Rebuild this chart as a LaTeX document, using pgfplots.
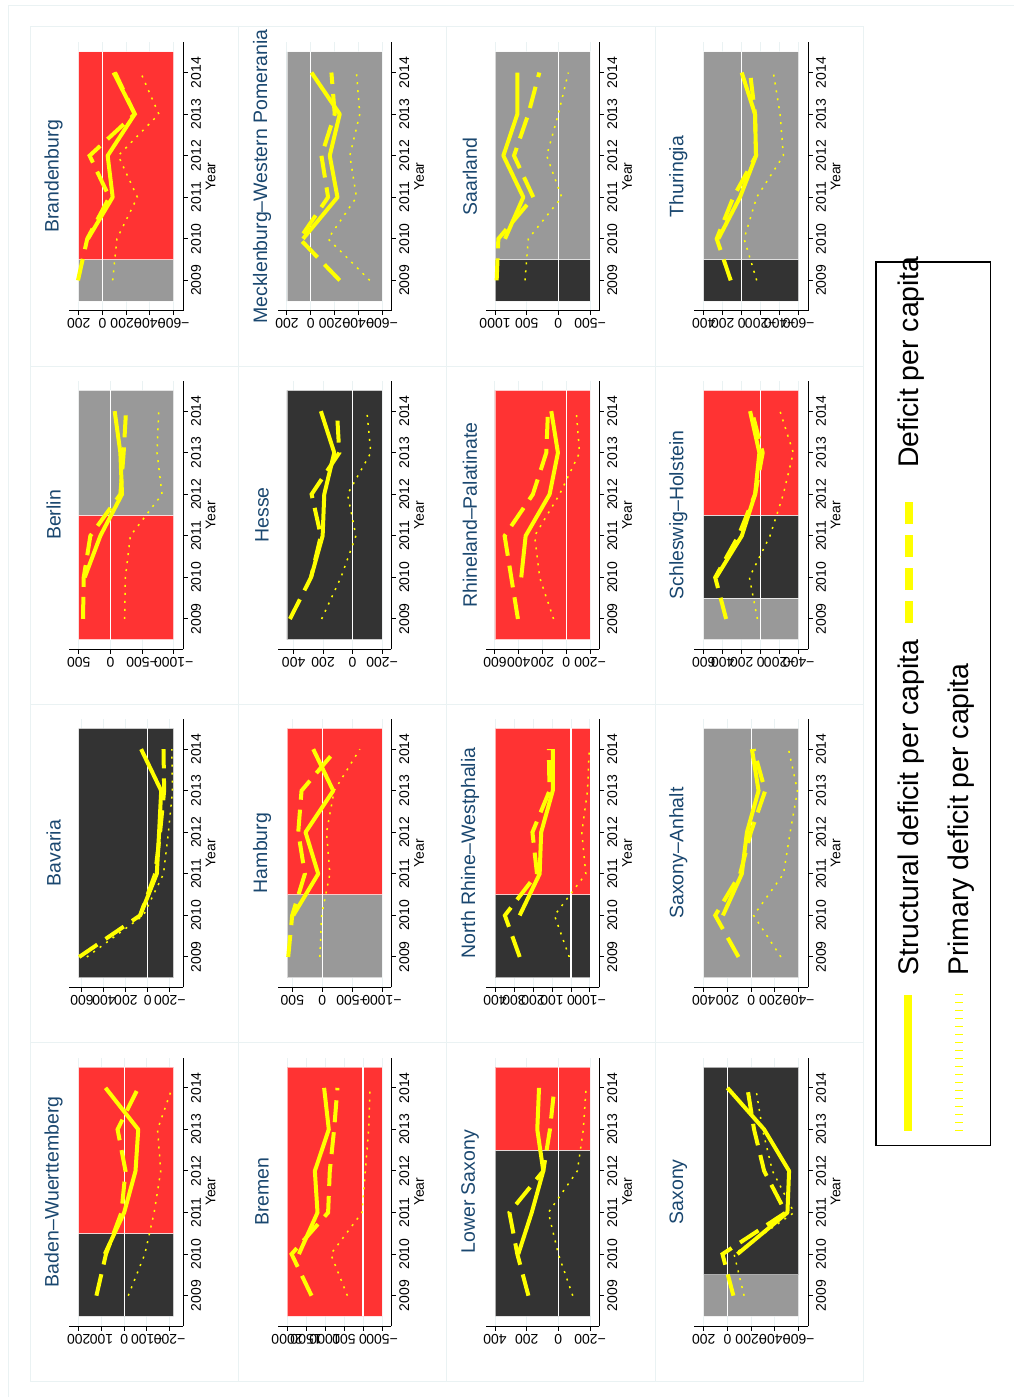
\documentclass[border=0pt]{standalone}
\usepackage{fontspec}
\setmainfont{Liberation Sans}
\usepackage{pgfplots}
\pgfplotsset{compat=1.18}
\definecolor{syel}{RGB}{255,255,0}
\definecolor{sred}{RGB}{255,51,51}
\definecolor{sdark}{RGB}{51,51,51}
\definecolor{sgray}{RGB}{153,153,153}
\definecolor{gridc}{RGB}{234,242,243}
\definecolor{navy}{RGB}{26,71,111}
\newcommand{\tickfont}{\fontsize{14}{14}\selectfont}
\newcommand{\band}[5]{\addplot[fill=#5, draw=white, draw opacity=0.6, line width=0.8pt, mark=none] coordinates {(#3,#1) (#4,#1) (#4,#2) (#3,#2) (#3,#1)};}
\newcommand{\zeroline}{\addplot[white, line width=1.2pt, mark=none] coordinates {(0,2008.5) (0,2014.5)};}
\tikzset{
  sstr/.style={syel, line width=4pt, mark=none, line join=round},
  sdef/.style={syel, line width=4pt, mark=none, dash pattern=on 22pt off 10pt},
  sprim/.style={syel, line width=1.5pt, mark=none, dash pattern=on 2pt off 6pt},
  ttl/.style={rotate=90, text=navy, font=\fontsize{19.5}{19.5}\selectfont},
}
\pgfplotsset{
  panel/.style={
    scale only axis, width=113.6pt, height=268.5pt,
    x dir=reverse,
    ymin=2008.27, ymax=2014.73,
    axis x line=bottom, axis y line=right,
    axis line style={-, black, line width=1pt},
    ytick={2009,2010,2011,2012,2013,2014},
    yticklabels={2009,2010,2011,2012,2013,2014},
    xtick align=outside, ytick align=outside,
    major tick length=4.5pt,
    tick style={black, line width=1pt},
    xmajorgrids, ymajorgrids=false,
    grid style={gridc, line width=1pt},
    xticklabel style={rotate=180, anchor=south, font=\tickfont},
    yticklabel style={rotate=90, anchor=north, font=\tickfont},
  }
}
\begin{document}
\begin{tikzpicture}[x=1pt, y=1pt]
\useasboundingbox (0,0) rectangle (1014,-1397);
% frames
\draw[gridc, line width=1pt] (8,-1397) -- (8,-5.7) -- (1014,-5.7);
\draw[gridc, line width=1pt] (30.7,-26.7) rectangle (863,-1381.7);
\foreach \xx in {238.7,446.7,655} \draw[gridc, line width=1pt] (\xx,-26.7) -- (\xx,-1381.7);
\foreach \yy in {366,704,1042.7} \draw[gridc, line width=1pt] (30.7,-\yy) -- (863,-\yy);

% ---------- Column 1 ----------
% Baden-Wuerttemberg
\begin{axis}[panel, at={(183pt,-1326pt)}, anchor=south east, xmin=-258.9, xmax=240.9,
  xtick={-200,-100,0,100,200}, xticklabels={−200,−100,0,100,200}]
\band{2008.5}{2010.5}{-218}{200}{sdark}
\band{2010.5}{2014.5}{-218}{200}{sred}
\zeroline
\addplot[sprim] coordinates {(-18,2009) (-91,2010) (-132,2011) (-161,2012) (-147,2013) (-211,2014)};
\addplot[sdef] coordinates {(122,2009) (80,2010) (12,2011) (-6,2012) (29,2013) (-62,2014)};
\addplot[sstr] coordinates {(85,2010) (0,2011) (-50,2012) (-62,2013) (82,2014)};
\end{axis}
\node[ttl] at (53.7,-1191.8) {Baden–Wuerttemberg};

% Bavaria
\begin{axis}[panel, at={(183pt,-987.3pt)}, anchor=south east, xmin=-320.8, xmax=714.8,
  xtick={-200,0,200,400,600}, xticklabels={−200,0,200,400,600}]
\band{2008.5}{2014.5}{-236}{630}{sdark}
\zeroline
\addplot[sprim] coordinates {(556,2009) (40,2010) (-143,2011) (-188,2012) (-225,2013) (-219,2014)};
\addplot[sdef] coordinates {(626,2009) (70,2010) (-67,2011) (-112,2012) (-149,2013) (-143,2014)};
\addplot[sstr] coordinates {(70,2010) (-82,2011) (-103,2012) (-122,2013) (61,2014)};
\end{axis}
\node[ttl] at (53.7,-853) {Bavaria};

% Berlin
\begin{axis}[panel, at={(183pt,-649.3pt)}, anchor=south east, xmin=-1146.9, xmax=646.9,
  xtick={-1000,-500,0,500}, xticklabels={−1000,−500,0,500}]
\band{2008.5}{2011.5}{-1000}{500}{sred}
\band{2011.5}{2014.5}{-1000}{500}{sgray}
\zeroline
\addplot[sprim] coordinates {(-226,2009) (-237,2010) (-316,2011) (-816,2012) (-737,2013) (-763,2014)};
\addplot[sdef] coordinates {(432,2009) (421,2010) (316,2011) (-158,2012) (-210,2013) (-247,2014)};
\addplot[sstr] coordinates {(405,2010) (158,2011) (-184,2012) (-158,2013) (-68,2014)};
\end{axis}
\node[ttl] at (53.7,-515) {Berlin};

% Brandenburg
\begin{axis}[panel, at={(183pt,-310.7pt)}, anchor=south east, xmin=-678.3, xmax=278.3,
  xtick={-600,-400,-200,0,200}, xticklabels={−600,−400,−200,0,200}]
\band{2008.5}{2009.5}{-600}{200}{sgray}
\band{2009.5}{2014.5}{-600}{200}{sred}
\zeroline
\addplot[sprim] coordinates {(-86,2009) (-122,2010) (-294,2011) (-133,2012) (-475,2013) (-322,2014)};
\addplot[sdef] coordinates {(206,2009) (128,2010) (-58,2011) (108,2012) (-272,2013) (-106,2014)};
\addplot[sstr] coordinates {(122,2010) (-86,2011) (-44,2012) (-272,2013) (-94,2014)};
\end{axis}
\node[ttl] at (53.7,-176.5) {Brandenburg};

% ---------- Column 2 ----------
% Bremen
\begin{axis}[panel, at={(391.3pt,-1326pt)}, anchor=south east, xmin=-744.8, xmax=2244.8,
  xtick={-500,0,500,1000,1500,2000}, xticklabels={−500,0,500,1000,1500,2000}]
\band{2008.5}{2014.5}{-500}{2000}{sred}
\zeroline
\addplot[sprim] coordinates {(411,2009) (848,2010) (26,2011) (-61,2012) (-149,2013) (-184,2014)};
\addplot[sdef] coordinates {(1355,2009) (1879,2010) (918,2011) (874,2012) (760,2013) (673,2014)};
\addplot[sstr] coordinates {(1687,2010) (1197,2011) (1267,2012) (900,2013) (1023,2014)};
\end{axis}
\node[ttl] at (262,-1191.8) {Bremen};

% Hamburg
\begin{axis}[panel, at={(391.3pt,-987.3pt)}, anchor=south east, xmin=-1155.6, xmax=744.6,
  xtick={-1000,-500,0,500}, xticklabels={−1000,−500,0,500}]
\band{2008.5}{2010.5}{-1000}{589}{sgray}
\band{2010.5}{2014.5}{-1000}{589}{sred}
\zeroline
\addplot[sprim] coordinates {(39,2009) (11,2010) (-128,2011) (-72,2012) (-200,2013) (-630,2014)};
\addplot[sdef] coordinates {(569,2009) (502,2010) (290,2011) (401,2012) (346,2013) (-240,2014)};
\addplot[sstr] coordinates {(485,2010) (67,2011) (279,2012) (-184,2013) (150,2014)};
\end{axis}
\node[ttl] at (262,-853) {Hamburg};

% Hesse
\begin{axis}[panel, at={(391.3pt,-649.3pt)}, anchor=south east, xmin=-263.1, xmax=508.1,
  xtick={-200,0,200,400}, xticklabels={−200,0,200,400}]
\band{2008.5}{2014.5}{-200}{445}{sdark}
\zeroline
\addplot[sprim] coordinates {(210,2009) (79,2010) (-23,2011) (34,2012) (-124,2013) (-97,2014)};
\addplot[sdef] coordinates {(425,2009) (282,2010) (215,2011) (278,2012) (90,2013) (106,2014)};
\addplot[sstr] coordinates {(282,2010) (203,2011) (192,2012) (124,2013) (215,2014)};
\end{axis}
\node[ttl] at (262,-515) {Hesse};

% Mecklenburg-Western Pomerania
\begin{axis}[panel, at={(391.3pt,-310.7pt)}, anchor=south east, xmin=-678.3, xmax=278.3,
  xtick={-600,-400,-200,0,200}, xticklabels={−600,−400,−200,0,200}]
\band{2008.5}{2014.5}{-600}{200}{sgray}
\zeroline
\addplot[sprim] coordinates {(-497,2009) (-146,2010) (-385,2011) (-329,2012) (-413,2013) (-385,2014)};
\addplot[sdef] coordinates {(-244,2009) (93,2010) (-146,2011) (-90,2012) (-202,2013) (-174,2014)};
\addplot[sstr] coordinates {(65,2010) (-225,2011) (-160,2012) (-244,2013) (-6,2014)};
\end{axis}
\node[ttl] at (262,-176.5) {Mecklenburg–Western Pomerania};

% ---------- Column 3 ----------
% Lower Saxony
\begin{axis}[panel, at={(599.3pt,-1326pt)}, anchor=south east, xmin=-258.7, xmax=458.7,
  xtick={-200,0,200,400}, xticklabels={−200,0,200,400}]
\band{2008.5}{2012.5}{-200}{400}{sdark}
\band{2012.5}{2014.5}{-200}{400}{sred}
\zeroline
\addplot[sprim] coordinates {(-91,2009) (0,2010) (63,2011) (-120,2012) (-158,2013) (-175,2014)};
\addplot[sdef] coordinates {(189,2009) (259,2010) (309,2011) (95,2012) (53,2013) (25,2014)};
\addplot[sstr] coordinates {(253,2010) (168,2011) (95,2012) (133,2013) (122,2014)};
\end{axis}
\node[ttl] at (470,-1191.8) {Lower Saxony};

% North Rhine-Westphalia
\begin{axis}[panel, at={(599.3pt,-987.3pt)}, anchor=south east, xmin=-149, xmax=449,
  xtick={-100,0,100,200,300,400}, xticklabels={−100,0,100,200,300,400}]
\band{2008.5}{2010.5}{-100}{400}{sdark}
\band{2010.5}{2014.5}{-100}{400}{sred}
\zeroline
\addplot[sprim] coordinates {(9,2009) (87,2010) (-78,2011) (-57,2012) (-87,2013) (-96,2014)};
\addplot[sdef] coordinates {(270,2009) (348,2010) (179,2011) (203,2012) (113,2013) (117,2014)};
\addplot[sstr] coordinates {(270,2010) (165,2011) (157,2012) (96,2013) (96,2014)};
\end{axis}
\node[ttl] at (470,-853) {North Rhine–Westphalia};

% Rhineland-Palatinate
\begin{axis}[panel, at={(599.3pt,-649.3pt)}, anchor=south east, xmin=-278.3, xmax=678.3,
  xtick={-200,0,200,400,600}, xticklabels={−200,0,200,400,600}]
\band{2008.5}{2014.5}{-200}{600}{sred}
\zeroline
\addplot[sprim] coordinates {(107,2009) (224,2010) (266,2011) (56,2012) (-112,2013) (-84,2014)};
\addplot[sdef] coordinates {(407,2009) (463,2010) (519,2011) (281,2012) (168,2013) (154,2014)};
\addplot[sstr] coordinates {(379,2010) (342,2011) (140,2012) (70,2013) (126,2014)};
\end{axis}
\node[ttl] at (470,-515) {Rhineland–Palatinate};

% Saarland
\begin{axis}[panel, at={(599.3pt,-310.7pt)}, anchor=south east, xmin=-646.9, xmax=1146.9,
  xtick={-500,0,500,1000}, xticklabels={−500,0,500,1000}]
\band{2008.5}{2009.5}{-500}{1000}{sdark}
\band{2009.5}{2014.5}{-500}{1000}{sgray}
\zeroline
\addplot[sprim] coordinates {(526,2009) (474,2010) (-53,2011) (184,2012) (0,2013) (-158,2014)};
\addplot[sdef] coordinates {(974,2009) (947,2010) (395,2011) (700,2012) (474,2013) (300,2014)};
\addplot[sstr] coordinates {(842,2010) (553,2011) (868,2012) (647,2013) (647,2014)};
\end{axis}
\node[ttl] at (470,-176.5) {Saarland};

% ---------- Column 4 ----------
% Saxony
\begin{axis}[panel, at={(808pt,-1326pt)}, anchor=south east, xmin=-678.3, xmax=278.3,
  xtick={-600,-400,-200,0,200}, xticklabels={−600,−400,−200,0,200}]
\band{2008.5}{2009.5}{-600}{200}{sgray}
\band{2009.5}{2014.5}{-600}{200}{sdark}
\zeroline
\addplot[sprim] coordinates {(-140,2009) (-56,2010) (-561,2011) (-379,2012) (-295,2013) (-238,2014)};
\addplot[sdef] coordinates {(-50,2009) (42,2010) (-491,2011) (-309,2012) (-224,2013) (-168,2014)};
\addplot[sstr] coordinates {(-84,2010) (-505,2011) (-519,2012) (-309,2013) (0,2014)};
\end{axis}
\node[ttl] at (678.3,-1191.8) {Saxony};

% Saxony-Anhalt
\begin{axis}[panel, at={(808pt,-987.3pt)}, anchor=south east, xmin=-478.3, xmax=478.3,
  xtick={-400,-200,0,200,400}, xticklabels={−400,−200,0,200,400}]
\band{2008.5}{2014.5}{-400}{400}{sgray}
\zeroline
\addplot[sprim] coordinates {(-250,2009) (-20,2010) (-272,2011) (-328,2012) (-390,2013) (-314,2014)};
\addplot[sdef] coordinates {(107,2009) (303,2010) (93,2011) (3,2012) (-118,2013) (-20,2014)};
\addplot[sstr] coordinates {(238,2010) (79,2011) (36,2012) (-62,2013) (-6,2014)};
\end{axis}
\node[ttl] at (678.3,-853) {Saxony–Anhalt};

% Schleswig-Holstein
\begin{axis}[panel, at={(808pt,-649.3pt)}, anchor=south east, xmin=-497.9, xmax=697.9,
  xtick={-400,-200,0,200,400,600}, xticklabels={−400,−200,0,200,400,600}]
\band{2008.5}{2009.5}{-400}{600}{sgray}
\band{2009.5}{2011.5}{-400}{600}{sdark}
\band{2011.5}{2014.5}{-400}{600}{sred}
\zeroline
\addplot[sprim] coordinates {(35,2009) (119,2010) (-98,2011) (-238,2012) (-343,2013) (-203,2014)};
\addplot[sdef] coordinates {(364,2009) (479,2010) (234,2011) (59,2012) (-21,2013) (94,2014)};
\addplot[sstr] coordinates {(469,2010) (199,2011) (59,2012) (14,2013) (112,2014)};
\end{axis}
\node[ttl] at (678.3,-515) {Schleswig–Holstein};

% Thuringia
\begin{axis}[panel, at={(808pt,-310.7pt)}, anchor=south east, xmin=-697.9, xmax=497.9,
  xtick={-600,-400,-200,0,200,400}, xticklabels={−600,−400,−200,0,200,400}]
\band{2008.5}{2009.5}{-600}{400}{sdark}
\band{2009.5}{2014.5}{-600}{400}{sgray}
\zeroline
\addplot[sprim] coordinates {(-158,2009) (-25,2010) (-158,2011) (-439,2012) (-404,2013) (-333,2014)};
\addplot[sdef] coordinates {(116,2009) (263,2010) (88,2011) (-151,2012) (-140,2013) (-88,2014)};
\addplot[sstr] coordinates {(246,2010) (18,2011) (-151,2012) (-140,2013) (0,2014)};
\end{axis}
\node[ttl] at (678.3,-176.5) {Thuringia};

% ---------- "Year" axis titles ----------
\foreach \xx in {210.7,419,627,835.7}
  \foreach \yy in {176.5,515,853,1191.8}
    \node[rotate=90, inner sep=0pt, font=\tickfont] at (\xx,-\yy) {Year};

% ---------- Legend ----------
\draw[black, line width=1.5pt] (876,-262) rectangle (990.7,-1145.7);
\draw[syel, line width=8pt] (908,-995) -- (908,-1131);
\draw[syel, line width=8pt, dash pattern=on 22pt off 11pt] (908.5,-623) -- (908.5,-491);
\draw[syel, line width=8pt, dash pattern=on 1.5pt off 6.5pt] (958.5,-1131) -- (958.5,-992);
\node[rotate=90, anchor=base west, inner sep=0pt, font=\fontsize{28.4}{28.4}\selectfont] at (918,-976) {Structural deficit per capita};
\node[rotate=90, anchor=base west, inner sep=0pt, font=\fontsize{28.4}{28.4}\selectfont] at (918,-468) {Deficit per capita};
\node[rotate=90, anchor=base west, inner sep=0pt, font=\fontsize{28.4}{28.4}\selectfont] at (968,-976) {Primary deficit per capita};
\end{tikzpicture}
\end{document}
